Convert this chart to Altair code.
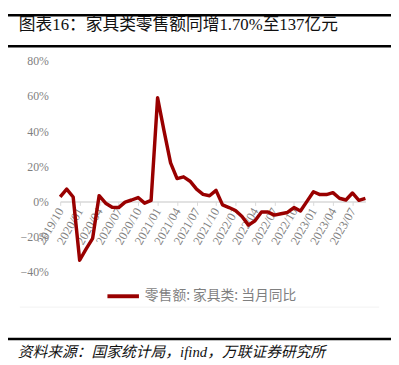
import altair as alt
import pandas as pd

# ---- data ----
months = [
    "2019/10", "2019/11", "2019/12",
    "2020/01", "2020/02", "2020/03", "2020/04", "2020/05", "2020/06",
    "2020/07", "2020/08", "2020/09", "2020/10", "2020/11", "2020/12",
    "2021/01", "2021/02", "2021/03", "2021/04", "2021/05", "2021/06",
    "2021/07", "2021/08", "2021/09", "2021/10", "2021/11", "2021/12",
    "2022/01", "2022/02", "2022/03", "2022/04", "2022/05", "2022/06",
    "2022/07", "2022/08", "2022/09", "2022/10", "2022/11", "2022/12",
    "2023/01", "2023/02", "2023/03", "2023/04", "2023/05", "2023/06",
    "2023/07", "2023/08", "2023/09",
]
yoy = [
    2.6, 7.0, 2.5,
    -33.5, -27.0, -21.0, 3.3, -1.0, -3.3,
    -3.5, -0.4, 0.8, 2.2, -1.0, 0.6,
    59.0, 40.0, 22.0, 13.0, 14.0, 11.5,
    7.0, 4.0, 3.2, 6.3, -2.0, -3.5,
    -5.2, -8.6, -13.5, -11.0, -6.0, -6.0,
    -7.8, -7.0, -6.3, -3.5, -5.5, 0.0,
    5.5, 3.9, 3.9, 5.0, 1.8, 0.8,
    4.8, 0.6, 1.7,
]
tick_labels = months[::3]
y_ticks = [-40, -20, 0, 20, 40, 60, 80]
series_name = "零售额: 家具类: 当月同比"
title_text = "图表16：家具类零售额同增1.70%至137亿元"
source_text = "资料来源：国家统计局，ifind，万联证券研究所"

df = pd.DataFrame({"month": months, "yoy": yoy, "series": series_name})

W, H = 310, 214
SERIF = "Liberation Serif, Noto Sans CJK SC"
CJK = "Noto Sans CJK SC"
GRAY = "#7f7f7f"
RED = "#990000"

line = alt.Chart(df).mark_line(strokeWidth=3.5, strokeJoin="round").encode(
    x=alt.X(
        "month:O",
        sort=months,
        scale=alt.Scale(type="point", padding=0),
        axis=alt.Axis(
            values=tick_labels,
            title=None,
            labelAngle=-60,
            labelAlign="right",
            labelBaseline="middle",
            labelFont=SERIF,
            labelFontSize=12.5,
            labelColor=GRAY,
            labelPadding=3,
            tickColor="#d9d9d9",
            tickSize=4,
            domainColor="#d9d9d9",
            domainWidth=1.5,
            offset=-71.3,
            grid=False,
        ),
    ),
    y=alt.Y(
        "yoy:Q",
        scale=alt.Scale(domain=[-40, 80], nice=False),
        axis=alt.Axis(
            values=y_ticks,
            title=None,
            labelExpr="replace(datum.value + '%', '-', '−')",
            labelFont=SERIF,
            labelFontSize=12,
            labelColor=GRAY,
            labelPadding=12,
            ticks=False,
            domain=False,
            grid=False,
        ),
    ),
    color=alt.Color(
        "series:N",
        scale=alt.Scale(range=[RED]),
        legend=alt.Legend(
            orient="none",
            legendX=46,
            legendY=221,
            title=None,
            symbolType="stroke",
            symbolStrokeWidth=4,
            symbolSize=1024,
            labelFont=CJK,
            labelFontSize=14,
            labelColor=GRAY,
            labelOffset=4,
        ),
    ),
)

one = alt.Data(values=[{"a": 1}])

def hrule(y, x1, x2, color, width):
    return alt.Chart(one).mark_rule(color=color, strokeWidth=width).encode(
        x=alt.value(x1), x2=alt.value(x2), y=alt.value(y)
    )

def label(txt, x, y, size, font, color, style="normal"):
    return alt.Chart(one).mark_text(
        text=txt, align="left", baseline="middle", fontSize=size,
        font=font, color=color, fontStyle=style,
    ).encode(x=alt.value(x), y=alt.value(y))

chart = alt.layer(
    line,
    hrule(-46.5, -53, 336, "#000000", 2.5),
    hrule(-15, -53, 336, "#000000", 2.5),
    label(title_text, -42, -36, 17, SERIF, "#111111"),
    hrule(250, -41, 324, "#f2f2f2", 1),
    hrule(282.5, -53, 336, "#000000", 2.5),
    label(source_text, -43, 296, 15, SERIF, "#111111", "italic"),
).properties(
    width=W,
    height=H,
    autosize=alt.AutoSizeParams(type="none"),
    padding={"left": 53, "top": 51, "right": 26, "bottom": 89},
).configure_view(stroke=None)

chart.save("out.html", embed_options={"renderer": "svg", "actions": False})
